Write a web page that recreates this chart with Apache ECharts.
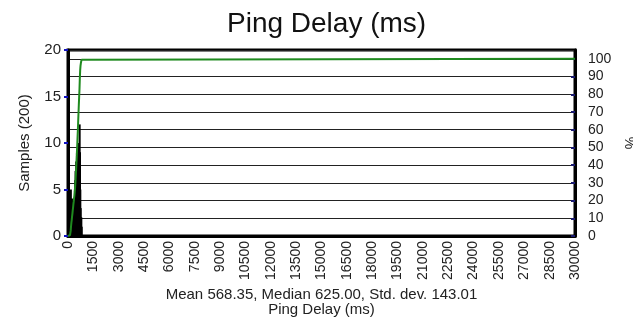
<!DOCTYPE html>
<html>
<head>
<meta charset="utf-8">
<script src="https://cdn.jsdelivr.net/npm/echarts@6/dist/echarts.min.js"></script>
<style>
  html, body { margin: 0; padding: 0; background: #fff; }
  #chart { width: 633px; height: 322px; }
</style>
</head>
<body>
<div id="chart"></div>
<script>
// Histogram of ping round-trip times: 20 ms bins (start of bin, ms) and sample counts
const binStarts = [100, 120, 140, 160, 180, 200, 220, 240, 260, 280, 300, 320, 340, 360, 380,
                   400, 420, 440, 460, 480, 500, 520, 540, 560, 580, 600, 620, 640, 660, 680,
                   700, 720, 740, 760, 780, 800];
const binCounts = [1, 2, 3, 5, 4, 3, 4, 3, 4, 3, 4, 3, 4, 3, 4,
                   5, 6, 7, 7, 8, 8, 9, 9, 9, 10, 10, 10, 9, 9, 12,
                   9, 5, 3, 2, 2, 1];
const binWidth = 20;
const totalSamples = 200;

// Axis settings
const delayMax = 30000;
const delayStep = 1500;
const samplesMax = 20;
const samplesStep = 5;
const pctStep = 10;

const statsText = 'Mean 568.35, Median 625.00, Std. dev. 143.01';
const titleText = 'Ping Delay (ms)';
const xName = 'Ping Delay (ms)';
const yName = 'Samples (200)';
const y2Name = '%';

// Histogram bars and cumulative percentage curve
const barData = binStarts.map((s, i) => [s + binWidth / 2, binCounts[i]]);
const cdfData = [[0, 0], [binStarts[0], 0]];
let running = 0;
binStarts.forEach((s, i) => {
  running += binCounts[i];
  cdfData.push([s + binWidth, running / totalSamples * 100]);
});
cdfData.push([delayMax, 100]);

const font = '"Liberation Sans", Arial, sans-serif';
const chart = echarts.init(document.getElementById('chart'), null, { renderer: 'canvas' });

chart.setOption({
  animation: false,
  backgroundColor: '#ffffff',
  textStyle: { fontFamily: font },
  title: {
    text: titleText,
    left: 222,
    top: 5,
    textStyle: { fontFamily: font, fontSize: 28, fontWeight: 'normal', color: '#111' }
  },
  grid: {
    left: 68, right: 58, top: 50, bottom: 86,
    outerBoundsMode: 'none',
    containLabel: false,
    show: true,
    borderColor: '#000',
    borderWidth: 3,
    backgroundColor: 'transparent'
  },
  xAxis: {
    type: 'value',
    min: 0,
    max: delayMax,
    interval: delayStep,
    name: statsText + '\n' + xName,
    nameLocation: 'middle',
    nameGap: 50,
    nameTextStyle: { fontFamily: font, fontSize: 15, color: '#222', lineHeight: 15 },
    axisLine: { show: true, lineStyle: { color: '#000', width: 3 } },
    axisTick: { show: false },
    splitLine: { show: false },
    axisLabel: {
      rotate: 90,
      margin: 5,
      fontFamily: font,
      fontSize: 14,
      color: '#222',
      formatter: v => String(v)
    }
  },
  yAxis: [
    {
      type: 'value',
      min: 0,
      max: samplesMax,
      interval: samplesStep,
      position: 'left',
      name: yName,
      nameLocation: 'middle',
      nameGap: 36,
      nameTextStyle: { fontFamily: font, fontSize: 15, color: '#222' },
      axisLine: { show: true, lineStyle: { color: '#000', width: 3 } },
      axisTick: { show: true, length: 4, lineStyle: { color: '#1010c0', width: 2 } },
      splitLine: { show: false },
      axisLabel: { margin: 7, fontFamily: font, fontSize: 15, color: '#222' }
    },
    {
      type: 'value',
      min: 0,
      max: 105,
      interval: pctStep,
      position: 'right',
      name: y2Name,
      nameLocation: 'middle',
      nameGap: 46,
      nameRotate: -90,
      nameTextStyle: { fontFamily: font, fontSize: 14, color: '#222' },
      axisLine: { show: true, lineStyle: { color: '#000', width: 3 } },
      axisTick: { show: true, inside: true, length: 4, lineStyle: { color: '#1a1a70', width: 2 } },
      splitLine: { show: true, lineStyle: { color: '#222', width: 1 } },
      axisLabel: {
        margin: 13,
        fontFamily: font,
        fontSize: 14,
        color: '#222',
        showMaxLabel: false,
        formatter: v => (v > 100 ? '' : String(v))
      }
    }
  ],
  series: [
    {
      name: 'Samples',
      type: 'bar',
      xAxisIndex: 0,
      yAxisIndex: 0,
      data: barData,
      barWidth: 2,
      itemStyle: { color: '#000' },
      z: 3
    },
    {
      name: 'Cumulative %',
      type: 'line',
      xAxisIndex: 0,
      yAxisIndex: 1,
      data: cdfData,
      showSymbol: false,
      lineStyle: { color: '#1f8a1f', width: 2 },
      z: 4
    }
  ]
});
</script>
</body>
</html>
